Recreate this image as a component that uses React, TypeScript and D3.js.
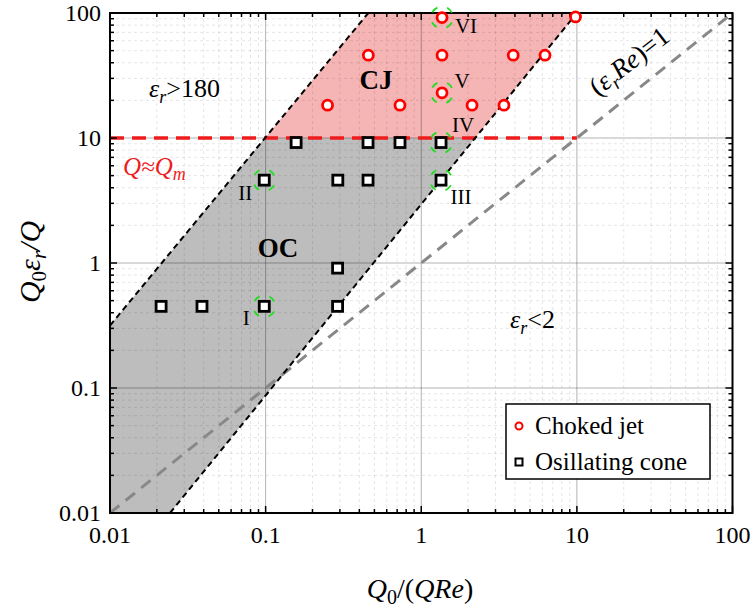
import React, { useEffect, useRef } from 'react';
import * as d3 from 'd3';

// axis ticks
const xTicks = [0.01, 0.1, 1, 10, 100];
const yTicks = [0.01, 0.1, 1, 10, 100];
const tickLabels = ['0.01', '0.1', '1', '10', '100'];

// choked jet points
const chokedX = [0.25, 0.457, 0.73, 1.36, 1.36, 1.36, 2.12, 3.4, 3.9, 6.24, 9.8];
const chokedY = [18.3, 46, 18.3, 92, 46, 23, 18.3, 18.3, 46, 46, 93];

// oscillating cone points
const coneX = [0.0213, 0.039, 0.098, 0.29, 0.29, 0.098, 0.291, 0.455, 0.157, 0.455, 0.73, 1.34, 1.34];
const coneY = [0.45, 0.45, 0.45, 0.45, 0.91, 4.6, 4.6, 4.6, 9.2, 9.2, 9.2, 9.2, 4.6];

// highlighted cases
const markedNames = ['I', 'II', 'III', 'IV', 'V', 'VI'];
const markedX = [0.098, 0.098, 1.34, 1.34, 1.36, 1.36];
const markedY = [0.45, 4.6, 4.6, 9.2, 23, 92];

// region boundaries
const upperEdge = [[0.01, 0.316], [0.457, 100]];
const lowerEdge = [[0.0243, 0.01], [10, 100]];
const qmLevel = 10;
const qmRange = [0.01, 10];
const unityLine = [[0.01, 0.01], [100, 100]];

const FONT = "'Liberation Serif', 'Times New Roman', serif";

export default function App() {
    const ref = useRef<SVGSVGElement>(null);

    useEffect(() => {
        const svg = d3.select(ref.current);
        svg.selectAll('*').remove();

        const left = 110, right = 732.5, top = 13, bottom = 513;
        const x = d3.scaleLog().domain([0.01, 100]).range([left, right]);
        const y = d3.scaleLog().domain([0.01, 100]).range([bottom, top]);

        // x on a boundary for a given y (log interpolation)
        function edgeX(edge: number[][], yv: number) {
            const t = (Math.log10(yv) - Math.log10(edge[0][1])) / (Math.log10(edge[1][1]) - Math.log10(edge[0][1]));
            return Math.pow(10, Math.log10(edge[0][0]) + t * (Math.log10(edge[1][0]) - Math.log10(edge[0][0])));
        }
        const xq = edgeX(lowerEdge, qmLevel);
        const xu = edgeX(upperEdge, qmLevel);

        const line = d3.line<number[]>().x(d => x(d[0])).y(d => y(d[1]));

        // regions
        const ocPoly = [[0.01, 0.01], lowerEdge[0], [xq, qmLevel], [xu, qmLevel], upperEdge[0]];
        const cjPoly = [[xu, qmLevel], upperEdge[1], lowerEdge[1], [xq, qmLevel]];
        svg.append('path').datum(ocPoly).attr('d', d => line(d) + 'Z').attr('fill', '#bdbdbd');
        svg.append('path').datum(cjPoly).attr('d', d => line(d) + 'Z').attr('fill', '#f5b5b5');

        // grid
        const minors: number[] = [];
        for (let e = -2; e < 2; e++) for (let k = 2; k < 10; k++) minors.push(k * Math.pow(10, e));
        const grid = svg.append('g');
        minors.forEach(v => {
            grid.append('line').attr('x1', x(v)).attr('x2', x(v)).attr('y1', top).attr('y2', bottom)
                .attr('stroke', 'rgba(0,0,0,0.13)').attr('stroke-dasharray', '3,3').attr('stroke-width', 0.8);
            grid.append('line').attr('y1', y(v)).attr('y2', y(v)).attr('x1', left).attr('x2', right)
                .attr('stroke', 'rgba(0,0,0,0.13)').attr('stroke-dasharray', '3,3').attr('stroke-width', 0.8);
        });
        xTicks.slice(1, -1).forEach(v => {
            grid.append('line').attr('x1', x(v)).attr('x2', x(v)).attr('y1', top).attr('y2', bottom)
                .attr('stroke', 'rgba(0,0,0,0.3)').attr('stroke-width', 1);
        });
        yTicks.slice(1, -1).forEach(v => {
            grid.append('line').attr('y1', y(v)).attr('y2', y(v)).attr('x1', left).attr('x2', right)
                .attr('stroke', 'rgba(0,0,0,0.3)').attr('stroke-width', 1);
        });

        // reference lines
        svg.append('path').datum(unityLine).attr('d', line).attr('fill', 'none')
            .attr('stroke', '#888').attr('stroke-width', 3).attr('stroke-dasharray', '12,8');
        svg.append('path').datum([[qmRange[0], qmLevel], [qmRange[1], qmLevel]]).attr('d', line).attr('fill', 'none')
            .attr('stroke', '#ee1c1c').attr('stroke-width', 3.5).attr('stroke-dasharray', '14,8');
        [upperEdge, lowerEdge].forEach(edge => {
            svg.append('path').datum(edge).attr('d', line).attr('fill', 'none')
                .attr('stroke', '#000').attr('stroke-width', 2).attr('stroke-dasharray', '6,4');
        });

        // frame and inward ticks
        svg.append('rect').attr('x', left).attr('y', top).attr('width', right - left).attr('height', bottom - top)
            .attr('fill', 'none').attr('stroke', '#000').attr('stroke-width', 2);
        const ticks = svg.append('g').attr('stroke', '#000').attr('stroke-width', 1.5);
        const allTicks = xTicks.map(v => [v, 7]).concat(minors.map(v => [v, 4]));
        allTicks.forEach(([v, len]) => {
            ticks.append('line').attr('x1', x(v)).attr('x2', x(v)).attr('y1', bottom).attr('y2', bottom - len);
            ticks.append('line').attr('x1', x(v)).attr('x2', x(v)).attr('y1', top).attr('y2', top + len);
            ticks.append('line').attr('y1', y(v)).attr('y2', y(v)).attr('x1', left).attr('x2', left + len);
            ticks.append('line').attr('y1', y(v)).attr('y2', y(v)).attr('x1', right).attr('x2', right - len);
        });

        // tick labels
        xTicks.forEach((v, i) => {
            svg.append('text').attr('x', x(v)).attr('y', 543).attr('text-anchor', 'middle')
                .attr('font-family', FONT).attr('font-size', 24).text(tickLabels[i]);
        });
        yTicks.forEach((v, i) => {
            svg.append('text').attr('x', 101).attr('y', y(v) + 8).attr('text-anchor', 'end')
                .attr('font-family', FONT).attr('font-size', 24).text(tickLabels[i]);
        });

        // axis titles
        const xt = svg.append('text').attr('x', 420).attr('y', 598).attr('text-anchor', 'middle')
            .attr('font-family', FONT).attr('font-size', 28);
        xt.append('tspan').attr('font-style', 'italic').text('Q');
        xt.append('tspan').attr('font-size', 20).attr('dy', 6).text('0');
        xt.append('tspan').attr('dy', -6).text('/(');
        xt.append('tspan').attr('font-style', 'italic').text('QRe');
        xt.append('tspan').text(')');

        const yt = svg.append('text').attr('transform', 'translate(40,262) rotate(-90)').attr('text-anchor', 'middle')
            .attr('font-family', FONT).attr('font-size', 30);
        yt.append('tspan').attr('font-style', 'italic').text('Q');
        yt.append('tspan').attr('font-size', 21).attr('dy', 6).text('0');
        yt.append('tspan').attr('dy', -6).attr('font-style', 'italic').text('ε');
        yt.append('tspan').attr('font-size', 21).attr('dy', 6).attr('font-style', 'italic').text('r');
        yt.append('tspan').attr('dy', -6).attr('font-style', 'italic').text('/Q');

        // annotations
        const a1 = svg.append('text').attr('x', 149).attr('y', 97).attr('font-family', FONT).attr('font-size', 26);
        a1.append('tspan').attr('font-style', 'italic').text('ε');
        a1.append('tspan').attr('font-style', 'italic').attr('font-size', 18).attr('dy', 6).text('r');
        a1.append('tspan').attr('dy', -6).text('>180');

        const a2 = svg.append('text').attr('x', 510).attr('y', 328).attr('font-family', FONT).attr('font-size', 26);
        a2.append('tspan').attr('font-style', 'italic').text('ε');
        a2.append('tspan').attr('font-style', 'italic').attr('font-size', 18).attr('dy', 6).text('r');
        a2.append('tspan').attr('dy', -6).text('<2');

        const a3 = svg.append('text').attr('x', 123).attr('y', 175).attr('font-family', FONT).attr('font-size', 25)
            .attr('fill', '#ee1c1c').attr('font-style', 'italic');
        a3.append('tspan').text('Q≈Q');
        a3.append('tspan').attr('font-size', 18).attr('dy', 5).text('m');

        const a4 = svg.append('text').attr('transform', 'translate(598,97) rotate(-38)')
            .attr('font-family', FONT).attr('font-size', 27);
        a4.append('tspan').text('(');
        a4.append('tspan').attr('font-style', 'italic').text('ε');
        a4.append('tspan').attr('font-style', 'italic').attr('font-size', 19).attr('dy', 6).text('r');
        a4.append('tspan').attr('dy', -6).attr('font-style', 'italic').text('Re');
        a4.append('tspan').text(')=1');

        svg.append('text').attr('x', 376).attr('y', 89).attr('text-anchor', 'middle').attr('font-family', FONT)
            .attr('font-size', 27).attr('font-weight', 'bold').text('CJ');
        svg.append('text').attr('x', 278).attr('y', 257).attr('text-anchor', 'middle').attr('font-family', FONT)
            .attr('font-size', 27).attr('font-weight', 'bold').text('OC');

        // highlighted case rings
        const labelOffset = [[-18, 19], [-19, 20], [20, 24], [22, -11], [20, -5], [24, 15]];
        markedNames.forEach((name, i) => {
            svg.append('circle').attr('cx', x(markedX[i])).attr('cy', y(markedY[i])).attr('r', 11)
                .attr('fill', 'none').attr('stroke', '#22dd22').attr('stroke-width', 1.8)
                .attr('stroke-dasharray', '7,10').attr('transform', `rotate(30,${x(markedX[i])},${y(markedY[i])})`);
            svg.append('text').attr('x', x(markedX[i]) + labelOffset[i][0]).attr('y', y(markedY[i]) + labelOffset[i][1])
                .attr('text-anchor', 'middle').attr('font-family', FONT).attr('font-size', 21).text(name);
        });

        // data points
        coneX.forEach((v, i) => {
            svg.append('rect').attr('x', x(v) - 5).attr('y', y(coneY[i]) - 5).attr('width', 10).attr('height', 10)
                .attr('fill', '#fff').attr('stroke', '#000').attr('stroke-width', 2.8);
        });
        chokedX.forEach((v, i) => {
            svg.append('circle').attr('cx', x(v)).attr('cy', y(chokedY[i])).attr('r', 5)
                .attr('fill', '#fff').attr('stroke', '#ff0000').attr('stroke-width', 2.8);
        });

        // legend
        const lg = svg.append('g');
        lg.append('rect').attr('x', 506).attr('y', 404).attr('width', 204).attr('height', 75)
            .attr('fill', '#fff').attr('stroke', '#000').attr('stroke-width', 1.5);
        lg.append('circle').attr('cx', 519).attr('cy', 426).attr('r', 3.5)
            .attr('fill', '#fff').attr('stroke', '#ff0000').attr('stroke-width', 2);
        lg.append('rect').attr('x', 515.5).attr('y', 458.5).attr('width', 7).attr('height', 7)
            .attr('fill', '#fff').attr('stroke', '#000').attr('stroke-width', 2);
        lg.append('text').attr('x', 535).attr('y', 434).attr('font-family', FONT).attr('font-size', 25).text('Choked jet');
        lg.append('text').attr('x', 535).attr('y', 470).attr('font-family', FONT).attr('font-size', 25).text('Osillating cone');
    }, []);

    return (
        <svg ref={ref} width={756} height={612}
            style={{ position: 'absolute', left: 0, top: 0, background: '#fff' }} />
    );
}
